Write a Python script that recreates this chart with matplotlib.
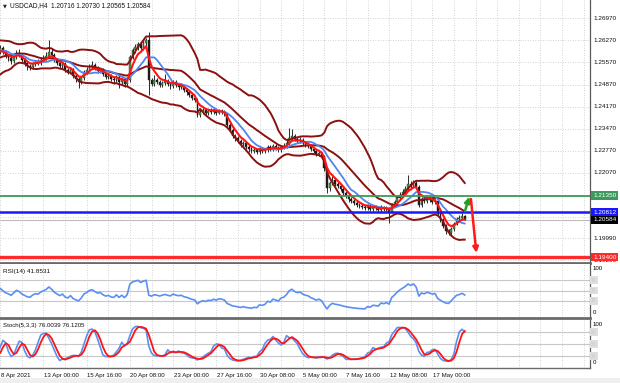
import numpy as np
import pandas as pd
import matplotlib
matplotlib.use("Agg")
import matplotlib.pyplot as plt
import matplotlib.transforms as mtransforms
from matplotlib.lines import Line2D
from matplotlib.patches import Rectangle

plt.rcParams['font.family'] = ['Liberation Sans', 'DejaVu Sans']

# ---------------- data ----------------
title_text = "USDCAD,H4  1.20716 1.20730 1.20565 1.20584"
rsi_label = "RSI(14) 41.8531"
stoch_label = "Stoch(5,3,3) 76.0039 76.1205"

# H4 bars before the visible window (seed the indicators)
hist_first_open = 1.2530
hist_close = [1.2535, 1.2528, 1.2540, 1.2549, 1.2536, 1.2530, 1.2545, 1.2558, 1.2570, 1.2564,
              1.2581, 1.2597, 1.2590, 1.2605, 1.2616, 1.2608, 1.2590, 1.2584, 1.2572, 1.2590]
hist_high = [1.2546, 1.2540, 1.2548, 1.2557, 1.2551, 1.2541, 1.2552, 1.2566, 1.2578, 1.2575,
             1.2589, 1.2605, 1.2601, 1.2612, 1.2625, 1.2620, 1.2611, 1.2596, 1.2587, 1.2598]
hist_low = [1.2524, 1.2519, 1.2524, 1.2535, 1.2530, 1.2522, 1.2526, 1.2540, 1.2552, 1.2558,
            1.2560, 1.2575, 1.2583, 1.2585, 1.2600, 1.2601, 1.2584, 1.2576, 1.2565, 1.2568]

# visible H4 bars (8 Apr 2021 -> 18 May 2021)
close = [1.2603, 1.2590, 1.2577, 1.2571, 1.2561, 1.2574, 1.2587, 1.2580, 1.2565, 1.2555,
         1.2545, 1.2542, 1.2552, 1.2558, 1.2555, 1.2565, 1.2571, 1.2577, 1.2590, 1.2580,
         1.2565, 1.2555, 1.2545, 1.2552, 1.2533, 1.2526, 1.2536, 1.2514, 1.2504, 1.2495,
         1.2507, 1.2526, 1.2533, 1.2545, 1.2549, 1.2539, 1.2530, 1.2533, 1.2520, 1.2511,
         1.2514, 1.2504, 1.2501, 1.2511, 1.2495, 1.2504, 1.2488, 1.2501, 1.2574, 1.2596,
         1.2606, 1.2615, 1.2603, 1.2618, 1.2628, 1.2501, 1.2488, 1.2501, 1.2495, 1.2485,
         1.2492, 1.2498, 1.2488, 1.2482, 1.2495, 1.2485, 1.2479, 1.2482, 1.2469, 1.2463,
         1.2454, 1.2444, 1.2438, 1.2390, 1.2400, 1.2406, 1.2397, 1.2403, 1.2400, 1.2406,
         1.2397, 1.2403, 1.2400, 1.2393, 1.2358, 1.2343, 1.2324, 1.2317, 1.2308, 1.2298,
         1.2301, 1.2289, 1.2282, 1.2276, 1.2279, 1.2273, 1.2282, 1.2276, 1.2279, 1.2289,
         1.2282, 1.2292, 1.2286, 1.2279, 1.2289, 1.2292, 1.2301, 1.2317, 1.2324, 1.2314,
         1.2308, 1.2311, 1.2301, 1.2295, 1.2292, 1.2282, 1.2276, 1.2267, 1.2270, 1.2260,
         1.2222, 1.2159, 1.2175, 1.2184, 1.2171, 1.2165, 1.2156, 1.2143, 1.2133, 1.2124,
         1.2117, 1.2111, 1.2105, 1.2102, 1.2098, 1.2095, 1.2102, 1.2092, 1.2098, 1.2095,
         1.2089, 1.2098, 1.2092, 1.2095, 1.2083, 1.2105, 1.2114, 1.2127, 1.2137, 1.2146,
         1.2156, 1.2171, 1.2165, 1.2175, 1.2162, 1.2105, 1.2124, 1.2117, 1.2127, 1.2121,
         1.2114, 1.2117, 1.2076, 1.2057, 1.2038, 1.2022, 1.2016, 1.2029, 1.2045, 1.2060,
         1.2064, 1.20716, 1.20584]
high = [1.2612, 1.2609, 1.2596, 1.2584, 1.2578, 1.2580, 1.2596, 1.2600, 1.2586, 1.2570,
        1.2561, 1.2553, 1.2558, 1.2566, 1.2567, 1.2572, 1.2580, 1.2590, 1.2628, 1.2600,
        1.2586, 1.2571, 1.2560, 1.2559, 1.2557, 1.2540, 1.2543, 1.2540, 1.2520, 1.2510,
        1.2513, 1.2532, 1.2541, 1.2553, 1.2560, 1.2555, 1.2545, 1.2540, 1.2538, 1.2526,
        1.2522, 1.2519, 1.2510, 1.2518, 1.2516, 1.2512, 1.2509, 1.2507, 1.2582, 1.2604,
        1.2614, 1.2623, 1.2620, 1.2626, 1.2636, 1.2653, 1.2509, 1.2518, 1.2508, 1.2502,
        1.2499, 1.2520, 1.2504, 1.2494, 1.2501, 1.2500, 1.2490, 1.2492, 1.2486, 1.2475,
        1.2468, 1.2460, 1.2450, 1.2443, 1.2408, 1.2413, 1.2412, 1.2410, 1.2411, 1.2414,
        1.2411, 1.2409, 1.2410, 1.2406, 1.2398, 1.2364, 1.2349, 1.2331, 1.2323, 1.2314,
        1.2309, 1.2306, 1.2294, 1.2288, 1.2286, 1.2285, 1.2289, 1.2290, 1.2286, 1.2295,
        1.2296, 1.2299, 1.2298, 1.2292, 1.2296, 1.2300, 1.2310, 1.2349, 1.2345, 1.2330,
        1.2320, 1.2319, 1.2316, 1.2307, 1.2303, 1.2297, 1.2288, 1.2281, 1.2277, 1.2274,
        1.2265, 1.2227, 1.2182, 1.2196, 1.2192, 1.2179, 1.2171, 1.2161, 1.2149, 1.2139,
        1.2130, 1.2123, 1.2117, 1.2112, 1.2109, 1.2106, 1.2109, 1.2108, 1.2105, 1.2106,
        1.2101, 1.2104, 1.2103, 1.2102, 1.2100, 1.2111, 1.2121, 1.2134, 1.2145, 1.2155,
        1.2166, 1.2200, 1.2182, 1.2184, 1.2181, 1.2167, 1.2131, 1.2130, 1.2134, 1.2132,
        1.2127, 1.2124, 1.2121, 1.2082, 1.2063, 1.2044, 1.2029, 1.2036, 1.2052, 1.2068,
        1.2073, 1.2079, 1.20730]
low = [1.2585, 1.2583, 1.2570, 1.2563, 1.2552, 1.2556, 1.2569, 1.2574, 1.2558, 1.2547,
       1.2534, 1.2532, 1.2537, 1.2546, 1.2548, 1.2550, 1.2559, 1.2566, 1.2572, 1.2574,
       1.2558, 1.2548, 1.2538, 1.2540, 1.2527, 1.2519, 1.2520, 1.2507, 1.2496, 1.2476,
       1.2489, 1.2502, 1.2520, 1.2528, 1.2538, 1.2532, 1.2524, 1.2522, 1.2513, 1.2503,
       1.2505, 1.2497, 1.2490, 1.2495, 1.2476, 1.2489, 1.2480, 1.2482, 1.2496, 1.2568,
       1.2588, 1.2598, 1.2597, 1.2598, 1.2610, 1.2454, 1.2481, 1.2483, 1.2488, 1.2478,
       1.2479, 1.2487, 1.2482, 1.2474, 1.2477, 1.2479, 1.2470, 1.2473, 1.2462, 1.2455,
       1.2447, 1.2437, 1.2430, 1.2384, 1.2385, 1.2394, 1.2390, 1.2391, 1.2393, 1.2395,
       1.2391, 1.2392, 1.2394, 1.2386, 1.2350, 1.2335, 1.2317, 1.2309, 1.2300, 1.2290,
       1.2291, 1.2282, 1.2274, 1.2269, 1.2270, 1.2266, 1.2268, 1.2270, 1.2271, 1.2274,
       1.2276, 1.2277, 1.2280, 1.2272, 1.2274, 1.2283, 1.2286, 1.2296, 1.2311, 1.2308,
       1.2301, 1.2302, 1.2295, 1.2288, 1.2285, 1.2275, 1.2269, 1.2260, 1.2261, 1.2252,
       1.2214, 1.2143, 1.2150, 1.2168, 1.2164, 1.2158, 1.2149, 1.2136, 1.2126, 1.2116,
       1.2110, 1.2104, 1.2098, 1.2095, 1.2091, 1.2088, 1.2089, 1.2086, 1.2087, 1.2088,
       1.2082, 1.2084, 1.2085, 1.2086, 1.2048, 1.2078, 1.2099, 1.2108, 1.2120, 1.2131,
       1.2140, 1.2150, 1.2158, 1.2159, 1.2155, 1.2098, 1.2099, 1.2110, 1.2111, 1.2114,
       1.2107, 1.2108, 1.2069, 1.2050, 1.2031, 1.2014, 1.2010, 1.2011, 1.2024, 1.2040,
       1.2054, 1.2058, 1.20565]

date_labels = ["8 Apr 2021", "13 Apr 00:00", "15 Apr 16:00", "20 Apr 08:00", "23 Apr 00:00",
               "27 Apr 16:00", "30 Apr 08:00", "5 May 00:00", "7 May 16:00", "12 May 08:00",
               "17 May 00:00"]
bars_per_label = 16

price_tick_labels = ["1.26970", "1.26270", "1.25570", "1.24870", "1.24170", "1.23470",
                     "1.22770", "1.22070", "1.19990", "1.19290"]
price_grid = [1.2697, 1.2627, 1.2557, 1.2487, 1.2417, 1.2347, 1.2277, 1.2207, 1.2137, 1.2067,
              1.1999, 1.1929]

level_green = 1.21350
level_blue = 1.20812
level_bid = 1.20584
level_red = 1.19400

arrow_up_from, arrow_up_to = (172.1, 1.2086), (173.7, 1.2131)
arrow_dn_from, arrow_dn_to = (174.3, 1.2124), (176.3, 1.1953)

rsi_levels = [70, 50, 30]
stoch_levels = [80, 50, 20]

# ---------------- indicators ----------------
n_hist = len(hist_close)
c_all = pd.Series(hist_close + close)
h_all = pd.Series(hist_high + high)
l_all = pd.Series(hist_low + low)
o_all = pd.Series([hist_first_open] + (hist_close + close)[:-1])
xs = np.arange(len(c_all)) - n_hist

mid = c_all.rolling(20).mean()
sd = c_all.rolling(20).std(ddof=0)
bb_up = mid + 2 * sd
bb_lo = mid - 2 * sd
ma_blue = c_all.rolling(10).mean()
ma_red = c_all.ewm(span=5, adjust=False).mean()

delta = c_all.diff()
gain = delta.clip(lower=0)
loss = -delta.clip(upper=0)
ag = gain.ewm(alpha=1 / 14, adjust=False).mean()
al = loss.ewm(alpha=1 / 14, adjust=False).mean()
rsi = 100 - 100 / (1 + ag / al)

ll = l_all.rolling(5).min()
hh = h_all.rolling(5).max()
stoch_k = 100 * (c_all - ll).rolling(3).sum() / (hh - ll).rolling(3).sum()
stoch_d = stoch_k.rolling(3).mean()

# ---------------- figure ----------------
W, H = 620, 383
fig = plt.figure(figsize=(W / 100, H / 100), dpi=100)
fig.patch.set_facecolor('white')


def px_axes(top, bottom, right=590):
    return fig.add_axes([0, (H - bottom) / H, right / W, (bottom - top) / H])


ax = px_axes(0, 263)
ax_r = px_axes(264, 318)
ax_s = px_axes(320, 368)

XL = (-0.11, 218.4)
grid_kw = dict(color='#c4c4c4', lw=0.6, ls=(0, (1, 2)), zorder=0)
for a in (ax, ax_r, ax_s):
    a.set_xlim(*XL)
    a.set_xticks([])
    a.set_yticks([])
    a.set_facecolor('white')
    for s in ('left', 'top'):
        a.spines[s].set_visible(False)
    a.spines['right'].set_color('#5a5a5a')
    a.spines['right'].set_linewidth(0.9)
    a.spines['bottom'].set_color('#6a6a6a')
    a.spines['bottom'].set_linewidth(2.0)
    for g in range(0, 219, 8):
        a.axvline(g, **grid_kw)
ax_s.spines['bottom'].set_linewidth(1.0)

# ---- main price panel ----
ax.set_ylim(1.1921, 1.2755)
for v in price_grid:
    ax.axhline(v, **grid_kw)

vis = xs >= -1
o_v, c_v, h_v, l_v, x_v = o_all[vis], c_all[vis], h_all[vis], l_all[vis], xs[vis]
ax.vlines(x_v, l_v, h_v, color='#2a2a2a', lw=0.7, zorder=2)
up = c_v >= o_v
body_bottom = np.minimum(o_v, c_v)
body_h = np.maximum(np.abs(c_v - o_v), 0.00006)
ax.bar(x_v[up], body_h[up], bottom=body_bottom[up], width=0.62, color='#3e9e3e',
       edgecolor='#2a2a2a', linewidth=0.3, zorder=3)
ax.bar(x_v[~up], body_h[~up], bottom=body_bottom[~up], width=0.62, color='#1a1a1a',
       edgecolor='#1a1a1a', linewidth=0.3, zorder=3)

band_col = '#8b1010'
for s in (bb_up, mid, bb_lo):
    ax.plot(xs, s, color=band_col, lw=1.4, zorder=4)
ax.plot(xs, ma_blue, color='#4f86f0', lw=1.3, zorder=5)
ax.plot(xs, ma_red, color='#ff1414', lw=1.5, zorder=6)

ax.axhline(level_bid, color='#bdbdbd', lw=0.8, zorder=1)
ax.axhline(level_green, color='#3c9a5c', lw=1.3, zorder=7)
ax.axhline(level_blue, color='#1818ff', lw=1.8, zorder=7)
ax.axhline(level_red, color='#ff2a2a', lw=2.4, zorder=7)

ax.annotate('', xy=arrow_up_to, xytext=arrow_up_from, zorder=8,
            arrowprops=dict(arrowstyle='-|>', color='#22a022', lw=1.8, mutation_scale=8,
                            shrinkA=0, shrinkB=0))
ax.annotate('', xy=arrow_dn_to, xytext=arrow_dn_from, zorder=8,
            arrowprops=dict(arrowstyle='-|>', color='#ff1a1a', lw=1.8, mutation_scale=8,
                            shrinkA=0, shrinkB=0))

trans = mtransforms.blended_transform_factory(ax.transAxes, ax.transData)
lab_x = 593 / 590
for txt in price_tick_labels:
    ax.text(lab_x, float(txt), txt, transform=trans, ha='left', va='center',
            fontsize=4.6, color='#111111', clip_on=False)
for val, col in ((level_green, '#3c9a5c'), (level_blue, '#1818ff'),
                 (level_bid, '#000000'), (level_red, '#ff2a2a')):
    ax.text(lab_x, val, f"{val:.5f}", transform=trans, ha='left', va='center',
            fontsize=4.6, color='white', clip_on=False, zorder=10,
            bbox=dict(boxstyle='square,pad=0.25', fc=col, ec='none'))

fig.text(3 / W, 1 - 5.5 / H, "\u25bc", fontsize=3.6, va='center', ha='left', color='#222222',
         family='DejaVu Sans')
fig.text(10 / W, 1 - 5.5 / H, title_text, fontsize=4.7, va='center', ha='left', color='#111111')

# ---- RSI panel ----
ax_r.set_ylim(-2.4, 100.5)
for lv in rsi_levels:
    ax_r.axhline(lv, color='#c8c8c8', lw=0.8, zorder=1)
ax_r.plot(xs, rsi, color='#5b8ff0', lw=1.2, zorder=3)
ax_r.text(3 / 590, (318 - 271) / 54, rsi_label, transform=ax_r.transAxes, fontsize=4.6,
          ha='left', va='center', color='#111111')
ax_r.text(lab_x, (318 - 269) / 54, "100", transform=ax_r.transAxes, fontsize=4.4,
          ha='left', va='center', clip_on=False)
ax_r.text(lab_x, (318 - 313) / 54, "0", transform=ax_r.transAxes, fontsize=4.4,
          ha='left', va='center', clip_on=False)
trans_r = mtransforms.blended_transform_factory(ax_r.transAxes, ax_r.transData)
for lv in rsi_levels:
    ax_r.text(591 / 590, lv, f"{lv}", transform=trans_r, fontsize=3.4, ha='left', va='center',
              color='#c9c9c9', clip_on=False,
              bbox=dict(boxstyle='square,pad=0.3', fc='#dedede', ec='none'))

# ---- Stochastic panel ----
ax_s.set_ylim(-10, 110)
for lv in stoch_levels:
    ax_s.axhline(lv, color='#c8c8c8', lw=0.8, zorder=1)
ax_s.plot(xs, stoch_k, color='#5b8ff0', lw=1.2, zorder=3)
ax_s.plot(xs, stoch_d, color='#ff1414', lw=1.3, zorder=4)
ax_s.text(3 / 590, (368 - 326) / 48, stoch_label, transform=ax_s.transAxes, fontsize=4.4,
          ha='left', va='center', color='#111111')
ax_s.text(lab_x, (368 - 324) / 48, "100", transform=ax_s.transAxes, fontsize=4.4,
          ha='left', va='center', clip_on=False)
ax_s.text(lab_x, (368 - 363) / 48, "0", transform=ax_s.transAxes, fontsize=4.4,
          ha='left', va='center', clip_on=False)
trans_s = mtransforms.blended_transform_factory(ax_s.transAxes, ax_s.transData)
for lv in stoch_levels:
    ax_s.text(591 / 590, lv, f"{lv}", transform=trans_s, fontsize=3.4, ha='left', va='center',
              color='#c9c9c9', clip_on=False,
              bbox=dict(boxstyle='square,pad=0.3', fc='#dedede', ec='none'))

trans_d = mtransforms.blended_transform_factory(ax_s.transData, ax_s.transAxes)
for k, txt in enumerate(date_labels):
    ax_s.text(k * bars_per_label + 0.2, (368 - 375) / 48, txt, transform=trans_d,
              fontsize=4.4, ha='left', va='center', color='#111111', clip_on=False)

fig.patches.append(Rectangle((0, 0), 1, 5 / H, transform=fig.transFigure,
                             fc='#efefef', ec='none', zorder=-1))

fig.savefig("out.png", dpi=100, facecolor='white')
